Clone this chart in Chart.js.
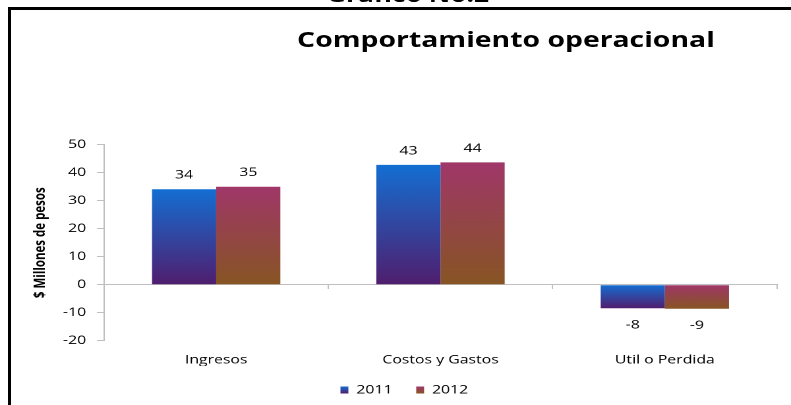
<!DOCTYPE html>
<html>
<head>
<meta charset="utf-8">
<script src="https://cdn.jsdelivr.net/npm/chart.js@4/dist/chart.umd.min.js"></script>
<style>
  html, body { margin: 0; padding: 0; background: #fff; overflow: hidden; width: 791px; height: 405px; }
  #frame { position: absolute; left: 8px; top: 7px; width: 820px; height: 430px;
           border-left: 3px solid #000; border-top: 3px solid #000; }
  #wrap { position: absolute; left: 0; top: 0; width: 600px; height: 405px;
          transform: scaleX(1.3183); transform-origin: 0 0; }
  .txt { position: absolute; font-family: "Open Sans", sans-serif; font-weight: bold;
         color: #000; text-align: center; white-space: nowrap; }
  #sup { left: 0; width: 619px; top: -14.8px; font-size: 20px; line-height: 20px; }
  #title { left: 0; width: 767.6px; top: 27.9px; font-size: 21.5px; line-height: 21.5px; }
  #c { position: absolute; left: 0; top: 0; width: 600px; height: 405px; }
</style>
</head>
<body>
<div id="frame"></div>
<div id="wrap">
  <div class="txt" id="sup">Grafico No.2</div>
  <div class="txt" id="title">Comportamiento operacional</div>
  <canvas id="c" width="600" height="405"></canvas>
</div>
<script>
const categories = ['Ingresos', 'Costos y Gastos', 'Util o Perdida'];
const seriesNames = ['2011', '2012'];
const values2011 = [34.1, 42.8, -8.4];
const values2012 = [35.0, 43.7, -8.6];
const yTicks = [-20, -10, 0, 10, 20, 30, 40, 50];
const yAxisTitle = '$ Millones de pesos';

const colors2011 = ['#146ed2', '#501e6e'];
const colors2012 = ['#a03769', '#875523'];
const FONT = '"Open Sans", sans-serif';

function barGradient(stops) {
  return function (ctx) {
    const chart = ctx.chart;
    const y = chart.scales && chart.scales.y;
    if (!chart.chartArea || !y || ctx.type !== 'data') return stops[0];
    const v = ctx.raw;
    const a = y.getPixelForValue(0), b = y.getPixelForValue(v);
    const top = Math.min(a, b), bot = Math.max(a, b);
    if (!(bot > top)) return stops[0];
    const g = chart.ctx.createLinearGradient(0, top, 0, bot);
    g.addColorStop(0, stops[0]);
    g.addColorStop(1, stops[1]);
    return g;
  };
}

const valueLabels = {
  id: 'valueLabels',
  afterDatasetsDraw(chart) {
    const c = chart.ctx;
    c.save();
    c.font = '12px ' + FONT;
    c.fillStyle = '#000';
    c.textAlign = 'center';
    c.textBaseline = 'middle';
    chart.data.datasets.forEach((ds, di) => {
      const meta = chart.getDatasetMeta(di);
      meta.data.forEach((el, i) => {
        const v = ds.data[i];
        const yy = v >= 0 ? el.y - 14 : el.y + 17;
        c.fillText(String(Math.round(v)), el.x, yy);
      });
    });
    c.restore();
  }
};

new Chart(document.getElementById('c'), {
  type: 'bar',
  data: {
    labels: categories,
    datasets: [
      { label: seriesNames[0], data: values2011, backgroundColor: barGradient(colors2011), borderWidth: 0 },
      { label: seriesNames[1], data: values2012, backgroundColor: barGradient(colors2012), borderWidth: 0 }
    ]
  },
  options: {
    responsive: false,
    animation: false,
    devicePixelRatio: 2,
    layout: { padding: { left: 24, right: 10.6, top: 144.7, bottom: 0 } },
    datasets: { bar: { categoryPercentage: 0.572, barPercentage: 1.0 } },
    plugins: {
      title: { display: false },
      tooltip: { enabled: false },
      legend: {
        position: 'bottom',
        maxHeight: 39,
        labels: {
          font: { family: FONT, size: 12 },
          color: '#000',
          boxWidth: 6,
          boxHeight: 7,
          padding: 18,
          generateLabels(chart) {
            const items = Chart.defaults.plugins.legend.labels.generateLabels(chart);
            items.forEach((it, i) => {
              const s = i === 0 ? colors2011 : colors2012;
              const g = chart.ctx.createLinearGradient(0, 386.5, 0, 393.5);
              g.addColorStop(0, s[0]);
              g.addColorStop(1, s[1]);
              it.fillStyle = g;
              it.strokeStyle = 'rgba(0,0,0,0)';
              it.lineWidth = 0;
            });
            return items;
          }
        }
      }
    },
    scales: {
      x: {
        type: 'category',
        position: 'bottom',
        grid: { display: false, drawTicks: false },
        border: { display: false },
        ticks: { font: { family: FONT, size: 12 }, color: '#000', padding: 12, maxRotation: 0 },
        afterFit(scale) { scale.height = 25.3; }
      },
      y: {
        min: -20,
        max: 50,
        position: 'left',
        afterBuildTicks(scale) { scale.ticks = yTicks.map(v => ({ value: v })); },
        afterFit(scale) { scale.width = 54.9; },
        grid: { drawOnChartArea: false, drawTicks: true, tickLength: 5.3, color: '#bfbfbf', tickColor: '#bfbfbf' },
        border: { display: true, color: '#bfbfbf', width: 1 },
        ticks: { font: { family: FONT, size: 12 }, color: '#000', padding: 8.3 },
        title: {
          display: true,
          text: yAxisTitle,
          color: '#000',
          font: { family: FONT, size: 11.5, weight: 'bold' },
          padding: { top: 0, bottom: 0 }
        }
      },
      x2: {
        type: 'category',
        labels: categories,
        position: { y: 0 },
        offset: true,
        grid: { display: true, offset: true, drawOnChartArea: false, drawTicks: true, tickLength: 4, color: '#bfbfbf', lineWidth: 1 },
        border: { display: true, color: '#bfbfbf', width: 1 },
        ticks: { display: false }
      }
    }
  },
  plugins: [valueLabels]
});
</script>
</body>
</html>
